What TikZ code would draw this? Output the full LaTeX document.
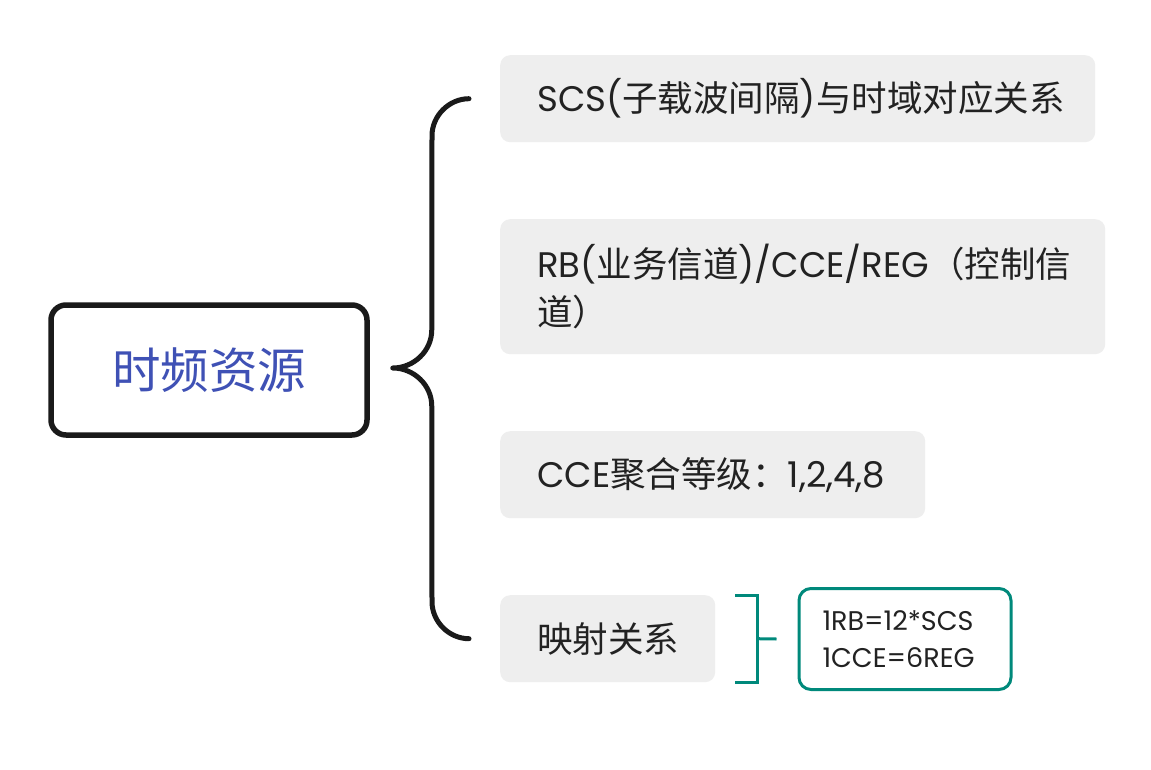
\documentclass[tikz,border=0pt]{standalone}
\usepackage{fontspec}
\setmainfont{Poppins}
\newfontfamily\cjk{Noto Sans CJK SC}
\usetikzlibrary{calc}
\definecolor{boxgray}{HTML}{EEEEEE}
\definecolor{teal1}{HTML}{00897B}
\definecolor{indigo1}{HTML}{3F51B5}
\definecolor{ink}{HTML}{1A1A1A}
\definecolor{txt}{HTML}{222222}
\begin{document}
\begin{tikzpicture}[x=1pt,y=-1pt,
  leaf/.style={fill=boxgray, rounded corners=10pt, inner xsep=37pt, inner ysep=0pt,
    align=left, anchor=north west, font=\fontsize{35.5}{48}\selectfont, text=txt},
  rootbox/.style={draw=ink, line width=5.5pt, rounded corners=15pt, minimum width=316pt,
    minimum height=130pt, font=\cjk\fontsize{48.5}{56}\selectfont, text=indigo1},
  mapbox/.style={draw=teal1, line width=3pt, rounded corners=12pt, minimum height=101pt,
    text width=165pt, inner xsep=23.5pt, align=left, font=\fontsize{27}{37}\selectfont, text=txt},
  bracel/.style={draw=ink, line width=5pt, line cap=round, line join=round},
  tealline/.style={draw=teal1, line width=3pt}
]
\useasboundingbox (0,0) rectangle (1151,769);
\fill[white] (0,0) rectangle (1151,769);

\node[rootbox] (root) at (209,370) {时频资源};

\node[leaf, text width=521pt, minimum height=87pt] (box1) at (500,55)
  {SCS({\cjk 子载波间隔}){\cjk 与时域对应关系}};
\node[leaf, text width=531pt, minimum height=135pt] (box2) at (500,219)
  {RB({\cjk 业务信道})/CCE/REG{\cjk （控制信}\\{\cjk 道）}};
\node[leaf, text width=351pt, minimum height=87pt] (box3) at (500,431)
  {CCE{\cjk 聚合等级：}1,2,4,8};
\node[leaf, text width=141pt, minimum height=87pt] (box4) at (500,595)
  {{\cjk 映射关系}};

\node[mapbox] (map) at (905,639) {1RB=12*SCS\\1CCE=6REG};

% brace
\coordinate (T) at ($(box1.west)+(-31,0)$);
\coordinate (B) at ($(box4.west)+(-31,0)$);
\coordinate (tip) at ($(root.east)+(23,-2)$);
\coordinate (V1) at ($(T)+(-37,37)$);
\coordinate (V2) at ($(tip)+(39,-38)$);
\coordinate (V3) at ($(tip)+(39,38)$);
\coordinate (V4) at ($(B)+(-37,-37)$);
\draw[bracel] (T) .. controls ($(T)+(-20,0)$) and ($(V1)+(0,-20)$) .. (V1)
  -- (V2) .. controls ($(V2)+(0,21)$) and ($(tip)+(21,0)$) .. (tip)
  .. controls ($(tip)+(21,0)$) and ($(V3)+(0,-21)$) .. (V3)
  -- (V4) .. controls ($(V4)+(0,20)$) and ($(B)+(-20,0)$) .. (B);

% teal bracket
\draw[tealline] ($(box4.north east)+(20,0)$) -- ($(box4.north east)+(42,0)$)
  -- ($(box4.south east)+(42,0)$) -- ($(box4.south east)+(20,0)$);
\draw[tealline] ($(box4.east)+(42,0)$) -- ($(map.west)+(-21,0)$);
\end{tikzpicture}
\end{document}
